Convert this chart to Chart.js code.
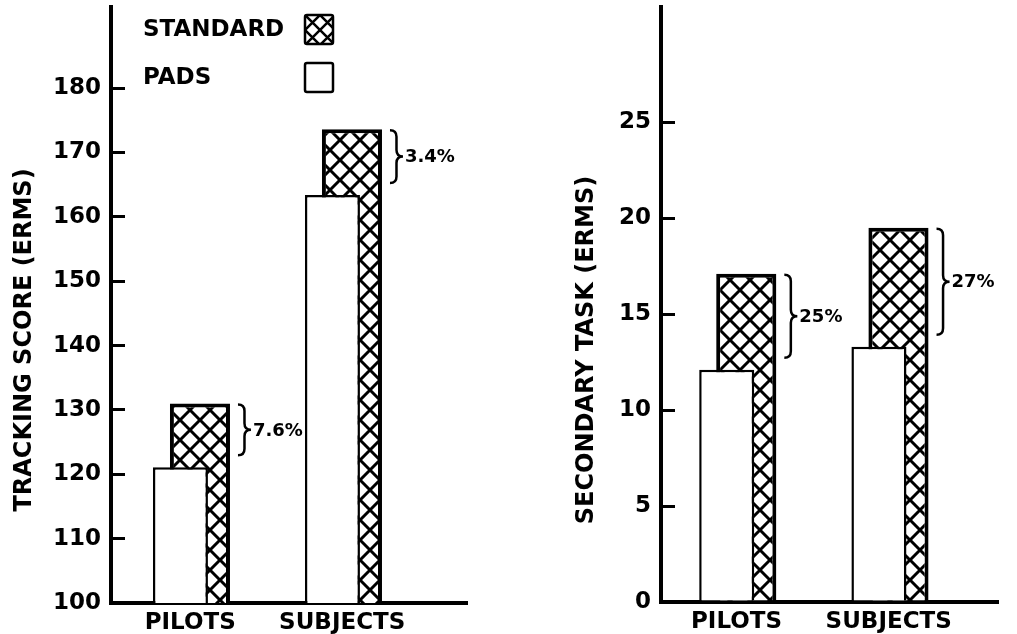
<!DOCTYPE html>
<html>
<head>
<meta charset="utf-8">
<script src="https://cdn.jsdelivr.net/npm/chart.js@4.4.1/dist/chart.umd.min.js"></script>
<style>
  html, body { margin: 0; padding: 0; background: #fff; }
  body { width: 1017px; height: 634px; position: relative; overflow: hidden; }
  canvas { position: absolute; top: 0; }
  #left { left: 0; }
  #right { left: 510px; }
</style>
</head>
<body>
<canvas id="left" width="510" height="634"></canvas>
<canvas id="right" width="507" height="634"></canvas>
<script>
// two panels, PADS bar drawn in front of the hatched STANDARD bar
const categories = ["PILOTS", "SUBJECTS"];

const trackingPads = [121.1, 163.4];
const trackingStandard = [131.0, 173.6];
const trackingTicks = [100, 110, 120, 130, 140, 150, 160, 170, 180];
const trackingDiff = ["7.6%", "3.4%"];

const secondaryPads = [12.1, 13.3];
const secondaryStandard = [17.1, 19.5];
const secondaryTicks = [0, 5, 10, 15, 20, 25];
const secondaryDiff = ["25%", "27%"];

const FONT = "'DejaVu Sans', sans-serif";
Chart.defaults.font.family = FONT;
Chart.defaults.font.weight = "bold";
Chart.defaults.color = "#000";

// overlapping grouped bars: slot is narrow, bars wider than slot
const CAT_PCT = 0.2566;
const PADS_BAR_PCT = 2.82;
const STD_BAR_PCT = 3.08;

function makeHatch(period, lw) {
  const c = document.createElement("canvas");
  c.width = c.height = period;
  const g = c.getContext("2d");
  g.fillStyle = "#fff";
  g.fillRect(0, 0, period, period);
  g.strokeStyle = "#000";
  g.lineWidth = lw;
  g.beginPath();
  for (let k = -1; k <= 1; k++) {
    g.moveTo(k * period - period, -period);
    g.lineTo(k * period + 2 * period, 2 * period);
  }
  for (let k = 0; k <= 2; k++) {
    g.moveTo(k * period + period, -period);
    g.lineTo(k * period - 2 * period, 2 * period);
  }
  g.stroke();
  return g.createPattern(c, "repeat");
}

const barHatch = makeHatch(20, 3);
const legendHatch = makeHatch(15, 2.5);

function drawBrace(ctx, x, top, bot, w) {
  const mid = (top + bot) / 2;
  const r = w / 2;
  ctx.beginPath();
  ctx.moveTo(x, top);
  ctx.quadraticCurveTo(x + r, top, x + r, top + r);
  ctx.lineTo(x + r, mid - r);
  ctx.quadraticCurveTo(x + r, mid, x + w, mid);
  ctx.quadraticCurveTo(x + r, mid, x + r, mid + r);
  ctx.lineTo(x + r, bot - r);
  ctx.quadraticCurveTo(x + r, bot, x, bot);
  ctx.stroke();
}

const bracePlugin = {
  id: "braces",
  afterDatasetsDraw(chart, args, opts) {
    const ctx = chart.ctx;
    const pads = chart.getDatasetMeta(0).data;
    const std = chart.getDatasetMeta(1).data;
    ctx.save();
    ctx.strokeStyle = "#000";
    ctx.lineWidth = 2.5;
    ctx.fillStyle = "#000";
    ctx.font = "bold 18px " + FONT;
    ctx.textBaseline = "middle";
    ctx.textAlign = "left";
    opts.labels.forEach((txt, i) => {
      const s = std[i], p = pads[i];
      const x = s.x + s.width / 2 + 8;
      const top = s.y + 1;
      const bot = p.y - 12;
      drawBrace(ctx, x, top, bot, 13);
      ctx.fillText(txt, x + 15, (top + bot) / 2 + 1);
    });
    ctx.restore();
  }
};

const titlePlugin = {
  id: "axisTitle",
  afterDraw(chart, args, opts) {
    const ctx = chart.ctx;
    ctx.save();
    ctx.translate(opts.x, opts.y);
    ctx.rotate(-Math.PI / 2);
    ctx.font = "bold 24px " + FONT;
    ctx.fillStyle = "#000";
    ctx.textAlign = "center";
    ctx.textBaseline = "middle";
    ctx.fillText(opts.text, 0, 0);
    ctx.restore();
  }
};

const legendPlugin = {
  id: "boxLegend",
  afterDraw(chart, args, opts) {
    if (!opts.items) return;
    const ctx = chart.ctx;
    ctx.save();
    ctx.font = "bold 23px " + FONT;
    ctx.textBaseline = "middle";
    ctx.textAlign = "left";
    opts.items.forEach((it) => {
      const fill = it.hatch ? legendHatch : "#fff";
      if (it.hatch) fill.setTransform(new DOMMatrix().translate(opts.boxX, it.y));
      ctx.fillStyle = fill;
      ctx.strokeStyle = "#000";
      ctx.lineWidth = 2.5;
      ctx.beginPath();
      ctx.roundRect(opts.boxX, it.y, opts.boxW, opts.boxH, 2);
      ctx.fill();
      ctx.stroke();
      ctx.fillStyle = "#000";
      ctx.fillText(it.name, opts.textX, it.y + opts.boxH / 2 + 1);
    });
    ctx.restore();
  }
};

function buildChart(id, cfg) {
  const ctx = document.getElementById(id).getContext("2d");
  return new Chart(ctx, {
    type: "bar",
    data: {
      datasets: [
        {
          label: "PADS",
          data: cfg.pads.map((v, i) => ({ x: i + 1, y: v })),
          backgroundColor: "#fff",
          borderColor: "#000",
          borderWidth: 2.5,
          categoryPercentage: CAT_PCT,
          barPercentage: PADS_BAR_PCT,
        },
        {
          label: "STANDARD",
          data: cfg.standard.map((v, i) => ({ x: i + 1, y: v })),
          backgroundColor: barHatch,
          borderColor: "#000",
          borderWidth: 4,
          categoryPercentage: CAT_PCT,
          barPercentage: STD_BAR_PCT,
        },
      ],
    },
    options: {
      responsive: false,
      animation: false,
      layout: { padding: { top: 7, right: cfg.padRight, left: 0, bottom: 0 } },
      plugins: {
        legend: { display: false },
        tooltip: { enabled: false },
        braces: { labels: cfg.diff },
        axisTitle: cfg.title,
        boxLegend: cfg.legend || {},
      },
      scales: {
        x: {
          type: "linear",
          offset: false,
          bounds: "data",
          min: cfg.xMin,
          max: cfg.xMax,
          grid: { display: false, drawTicks: false, offset: false },
          border: { display: true, color: "#000", width: 4 },
          ticks: {
            padding: 6,
            maxRotation: 0,
            autoSkip: false,
            font: { size: 23 },
            callback: (v) => categories[v - 1] ?? "",
          },
          afterBuildTicks: (s) => { s.ticks = categories.map((_, i) => ({ value: i + 1 })); },
          afterFit: (s) => { s.height = cfg.xHeight; s.paddingLeft = 0; s.paddingRight = 0; },
        },
        y: {
          min: cfg.yMin,
          max: cfg.yMax,
          grid: { display: true, drawOnChartArea: false, drawTicks: true, tickLength: -14, color: "#000", lineWidth: 3 },
          border: { display: true, color: "#000", width: 4 },
          ticks: { padding: 24, autoSkip: false, font: { size: 23 } },
          afterBuildTicks: (s) => { s.ticks = cfg.ticks.map((v) => ({ value: v })); },
          afterFit: (s) => { s.width = cfg.yWidth; s.paddingTop = 0; s.paddingBottom = 0; },
        },
      },
    },
    plugins: [bracePlugin, titlePlugin, legendPlugin],
  });
}

buildChart("left", {
  pads: trackingPads,
  standard: trackingStandard,
  ticks: trackingTicks,
  diff: trackingDiff,
  yMin: 100,
  yMax: 192.6,
  xMin: 0.479,
  xMax: 2.821,
  yWidth: 111,
  xHeight: 31,
  padRight: 43,
  title: { text: "TRACKING SCORE (ERMS)", x: 25, y: 340 },
  legend: {
    textX: 143,
    boxX: 305,
    boxW: 28,
    boxH: 29,
    items: [
      { name: "STANDARD", hatch: true, y: 15 },
      { name: "PADS", hatch: false, y: 63 },
    ],
  },
});

buildChart("right", {
  pads: secondaryPads,
  standard: secondaryStandard,
  ticks: secondaryTicks,
  diff: secondaryDiff,
  yMin: 0,
  yMax: 31,
  xMin: 0.504,
  xMax: 2.718,
  yWidth: 151,
  xHeight: 32,
  padRight: 19,
  title: { text: "SECONDARY TASK (ERMS)", x: 77, y: 350 },
});
</script>
</body>
</html>
